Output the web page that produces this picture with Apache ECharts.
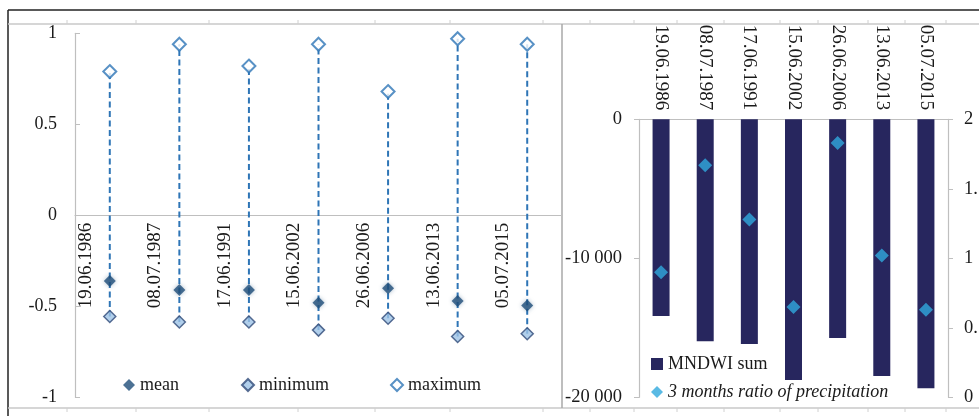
<!DOCTYPE html>
<html>
<head>
<meta charset="utf-8">
<script src="https://cdn.jsdelivr.net/npm/echarts@6/dist/echarts.min.js"></script>
<style>
html,body{margin:0;padding:0;background:#fff;}
#chart{width:979px;height:416px;}
</style>
</head>
<body>
<div id="chart"></div>
<script>
const categories = ['19.06.1986','08.07.1987','17.06.1991','15.06.2002','26.06.2006','13.06.2013','05.07.2015'];
const meanValues = [-0.36,-0.41,-0.41,-0.48,-0.40,-0.47,-0.495];
const minValues  = [-0.555,-0.585,-0.585,-0.63,-0.565,-0.665,-0.65];
const maxValues  = [0.79,0.94,0.82,0.94,0.68,0.97,0.94];
const mndwiSum   = [-14150,-15970,-16170,-18750,-15730,-18470,-19350];
const precipRatio = [0.90,1.67,1.28,0.65,1.83,1.02,0.63];

const FONT = '"Liberation Serif","Times New Roman",serif';
const TXT = '#1a1a1a';
const AXC = '#bfbfbf';

function fmtThousands(v){
  if (v === 0) return '0';
  const s = Math.abs(v).toString().replace(/\B(?=(\d{3})+(?!\d))/g, ' ');
  return (v < 0 ? '-' : '') + s;
}

const chart = echarts.init(document.getElementById('chart'), null, {renderer:'canvas'});

// decorative frame
const topTicks = [67,136,209,298,375,450,543,590,634,677,724,780,818,868,905,946];
const graphics = [
  {type:'line', shape:{x1:8,y1:10,x2:979,y2:10}, style:{stroke:'#222',lineWidth:1.5}},
  {type:'line', shape:{x1:8,y1:10,x2:8,y2:416}, style:{stroke:'#222',lineWidth:1.5}},
  {type:'line', shape:{x1:8,y1:24,x2:979,y2:24}, style:{stroke:'#c8c8c8',lineWidth:1.5}},
  {type:'line', shape:{x1:8,y1:408,x2:979,y2:408}, style:{stroke:'#c8c8c8',lineWidth:1.5}},
  {type:'line', shape:{x1:562,y1:24,x2:562,y2:408}, style:{stroke:'#a8a8a8',lineWidth:1.5}}
];
topTicks.forEach(x=>{
  graphics.push({type:'line', shape:{x1:x,y1:20,x2:x,y2:24}, style:{stroke:'#d0d0d0',lineWidth:1}});
  graphics.push({type:'line', shape:{x1:x,y1:408,x2:x,y2:412}, style:{stroke:'#d0d0d0',lineWidth:1}});
});

const option = {
  backgroundColor:'#fff',
  animation:false,
  textStyle:{fontFamily:FONT},
  graphic: graphics,
  grid:[
    {left:75, top:33.3, width:487, height:364.2, outerBoundsMode:'none', containLabel:false},
    {left:639, top:119.3, width:309, height:278, outerBoundsMode:'none', containLabel:false}
  ],
  legend:[
    {left:118, top:371, itemWidth:12, itemHeight:12, itemGap:10, data:['mean'],
     textStyle:{fontFamily:FONT,fontSize:18,color:TXT}},
    {left:236, top:371, itemWidth:12, itemHeight:12, data:['minimum'],
     textStyle:{fontFamily:FONT,fontSize:18,color:TXT}},
    {left:385, top:371, itemWidth:12, itemHeight:12, data:['maximum'],
     textStyle:{fontFamily:FONT,fontSize:18,color:TXT}},
    {left:646, top:349, orient:'vertical', itemWidth:12, itemHeight:12, itemGap:8,
     data:[{name:'MNDWI sum', icon:'rect'},
           {name:'3 months ratio of precipitation', textStyle:{fontStyle:'italic'}}],
     textStyle:{fontFamily:FONT,fontSize:18,color:TXT,lineHeight:20}}
  ],
  xAxis:[
    {type:'category', gridIndex:0, data:categories, position:'bottom', offset:-181.8,
     axisLine:{onZero:false, lineStyle:{color:AXC,width:1.2}},
     axisTick:{inside:true,length:5,lineStyle:{color:AXC}},
     axisLabel:{rotate:90, margin:7, fontFamily:FONT, fontSize:19, color:TXT,
                lineHeight:48, verticalAlign:'bottom', interval:0},
     splitLine:{show:false}},
    {type:'category', gridIndex:1, data:categories, position:'top',
     axisLine:{onZero:false, lineStyle:{color:AXC,width:1.2}},
     axisTick:{inside:true,length:5,lineStyle:{color:AXC}},
     axisLabel:{rotate:90, margin:9, fontFamily:FONT, fontSize:19, color:TXT, interval:0},
     splitLine:{show:false}}
  ],
  yAxis:[
    {type:'value', gridIndex:0, min:-1, max:1, interval:0.5,
     axisLine:{show:true, lineStyle:{color:AXC,width:1.2}},
     axisTick:{show:true, inside:true, length:5, lineStyle:{color:AXC}},
     axisLabel:{margin:18, fontFamily:FONT, fontSize:18, color:TXT},
     splitLine:{show:false}},
    {type:'value', gridIndex:1, min:-20000, max:0, interval:10000, position:'left',
     axisLine:{show:true, lineStyle:{color:AXC,width:1.2}},
     axisTick:{show:true, length:5, lineStyle:{color:AXC}},
     axisLabel:{margin:17, fontFamily:FONT, fontSize:18.5, color:TXT, formatter:fmtThousands},
     splitLine:{show:false}},
    {type:'value', gridIndex:1, min:0, max:2, interval:0.5, position:'right',
     axisLine:{show:true, lineStyle:{color:AXC,width:1.2}},
     axisTick:{show:true, length:5, lineStyle:{color:AXC}},
     axisLabel:{margin:16, fontFamily:FONT, fontSize:18.5, color:TXT},
     splitLine:{show:false}}
  ],
  series:[
    {type:'custom', name:'range', xAxisIndex:0, yAxisIndex:0, silent:true,
     data: categories.map((c,i)=>[i, minValues[i], maxValues[i]]),
     encode:{x:0, y:[1,2]},
     renderItem:function(params, api){
       const i = api.value(0);
       const p1 = api.coord([i, api.value(1)]);
       const p2 = api.coord([i, api.value(2)]);
       return {type:'line', shape:{x1:p1[0],y1:p1[1],x2:p2[0],y2:p2[1]},
               style:{stroke:'#2E75B6', lineWidth:2, lineDash:[6,3.5]}};
     }},
    {type:'scatter', name:'minimum', xAxisIndex:0, yAxisIndex:0, data:minValues,
     symbol:'diamond', symbolSize:12,
     itemStyle:{color:'#9DC3E6', borderColor:'#2F4A78', borderWidth:1.5}},
    {type:'scatter', name:'mean', xAxisIndex:0, yAxisIndex:0, data:meanValues,
     symbol:'diamond', symbolSize:12,
     itemStyle:{color:'#1F4E79', shadowColor:'rgba(31,78,121,0.45)', shadowBlur:4}},
    {type:'scatter', name:'maximum', xAxisIndex:0, yAxisIndex:0, data:maxValues,
     symbol:'diamond', symbolSize:13,
     itemStyle:{color:'#ffffff', borderColor:'#2E75B6', borderWidth:2}},
    {type:'bar', name:'MNDWI sum', xAxisIndex:1, yAxisIndex:1, data:mndwiSum,
     barWidth:17, itemStyle:{color:'#27265E'}},
    {type:'scatter', name:'3 months ratio of precipitation', xAxisIndex:1, yAxisIndex:2, data:precipRatio,
     symbol:'diamond', symbolSize:14, itemStyle:{color:'#31A9DD'}}
  ]
};
chart.setOption(option);
</script>
</body>
</html>
